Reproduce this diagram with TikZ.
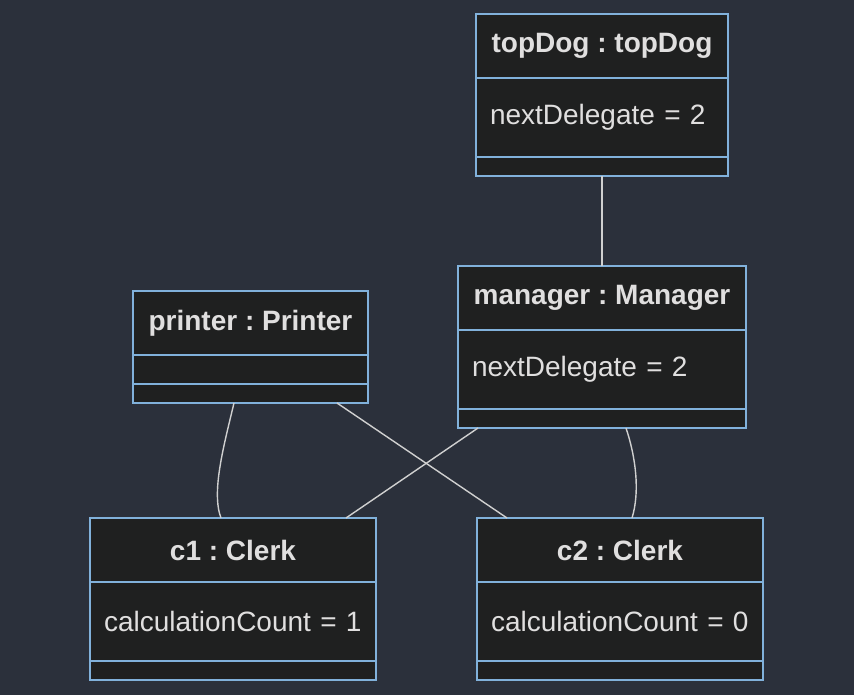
\documentclass[tikz,border=0pt]{standalone}
\usepackage{fontspec}
\setmainfont{Liberation Sans}
\usepackage{xcolor}
\definecolor{bgslate}{HTML}{2B303B}
\definecolor{boxfill}{HTML}{1F2020}
\definecolor{boxline}{HTML}{81B1DB}
\definecolor{boxtext}{HTML}{E0DFDF}
\definecolor{linkgray}{HTML}{D0D0D0}
\usetikzlibrary{positioning,calc}
\frenchspacing
\tikzset{
  objpart/.style={draw=boxline,fill=boxfill,line width=1.3pt,outer sep=0pt,inner ysep=0pt,
    text=boxtext,font=\fontsize{28}{32}\selectfont},
  objtitle/.style={objpart,anchor=north west,minimum height=64pt,inner xsep=0pt,
    font=\fontsize{28}{32}\selectfont\bfseries},
  objattr/.style={objpart,minimum height=79pt,inner xsep=14pt,align=left},
  objops/.style={objpart,minimum height=19pt},
  link/.style={draw=linkgray,line width=1.4pt},
}
\begin{document}
\begin{tikzpicture}[x=1pt,y=-1pt]
  \fill[bgslate] (0,0) rectangle (854,695);
  \useasboundingbox (0,0) rectangle (854,695);
  % topDog
  \node[objtitle,minimum width=252pt] (topDog) at (476,14) {topDog : topDog};
  \node[objattr,text width=224pt,below=0pt of topDog] (topDogAttr) {nextDelegate = 2};
  \node[objops,minimum width=252pt,below=0pt of topDogAttr] (topDogOps) {};
  % printer
  \node[objtitle,minimum width=235pt] (printer) at (133,291) {printer : Printer};
  \node[objpart,minimum width=235pt,minimum height=29pt,below=0pt of printer] (printerAttr) {};
  \node[objops,minimum width=235pt,below=0pt of printerAttr] (printerOps) {};
  % manager
  \node[objtitle,minimum width=288pt] (manager) at (458,266) {manager : Manager};
  \node[objattr,text width=260pt,below=0pt of manager] (managerAttr) {nextDelegate = 2};
  \node[objops,minimum width=288pt,below=0pt of managerAttr] (managerOps) {};
  % clerks
  \node[objtitle,minimum width=286pt] (c1) at (90,518) {c1 : Clerk};
  \node[objattr,text width=258pt,below=0pt of c1] (c1Attr) {calculationCount = 1};
  \node[objops,minimum width=286pt,below=0pt of c1Attr] (c1Ops) {};
  \node[objtitle,minimum width=286pt] (c2) at (477,518) {c2 : Clerk};
  \node[objattr,text width=258pt,below=0pt of c2] (c2Attr) {calculationCount = 0};
  \node[objops,minimum width=286pt,below=0pt of c2Attr] (c2Ops) {};
  % links
  \draw[link] (topDogOps.south) -- (manager.north);
  \draw[link] ([xshift=101pt]printerOps.south west) .. controls (224,445) and (211,492) .. ([xshift=131pt]c1.north west);
  \draw[link] ([xshift=204pt]printerOps.south west) -- ([xshift=30pt]c2.north west);
  \draw[link] ([xshift=20pt]managerOps.south west) -- ([xshift=256pt]c1.north west);
  \draw[link] ([xshift=168pt]managerOps.south west) .. controls (636,458) and (640,492) .. ([xshift=155pt]c2.north west);
\end{tikzpicture}
\end{document}
